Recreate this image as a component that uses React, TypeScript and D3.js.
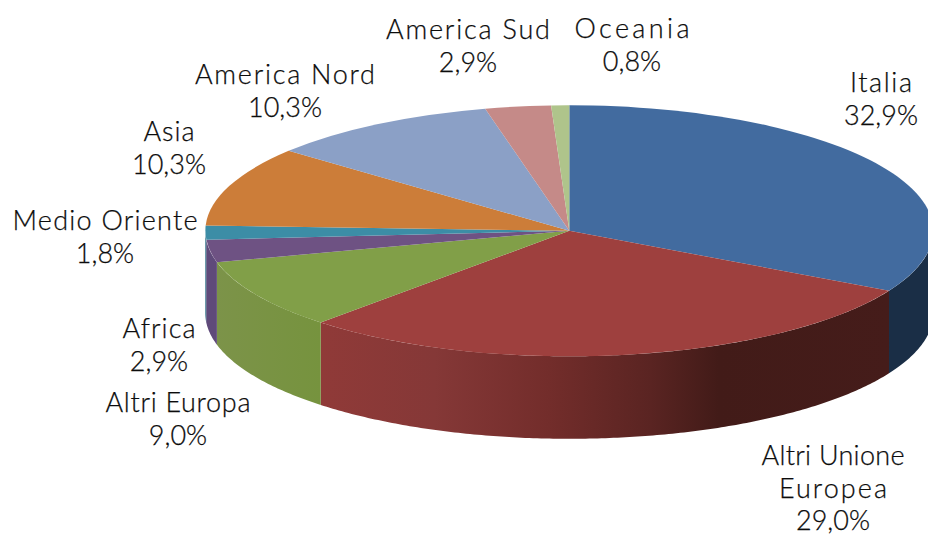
import React from "react";
import * as d3 from "d3";

const categories = ["Italia", "Altri Unione Europea", "Altri Europa", "Africa", "Medio Oriente", "Asia", "America Nord", "America Sud", "Oceania"];
const shares = [32.9, 29.0, 9.0, 2.9, 1.8, 10.3, 10.3, 2.9, 0.8];
const topColors = ["#426b9f", "#9e403e", "#819f48", "#6e5283", "#3c8da6", "#cc7d39", "#8ba0c6", "#c58a88", "#afc48b"];
const wallColors = ["#1a2e46", "url(#wallRed)", "url(#wallGreen)", "#5f4a7a", "#2f7187", "#a3642e", "#6f809e", "#9d6e6d", "#8c9d6f"];

// Label anchors: horizontal centre and the baseline of the first line.
const labelX = [881, 833, 178, 159, 105, 169, 285, 468, 632];
const labelY = [92, 465, 412, 338, 230, 141, 84, 39, 38];
const labelLines = [["Italia"], ["Altri Unione", "Europea"], ["Altri Europa"], ["Africa"], ["Medio Oriente"], ["Asia"], ["America Nord"], ["America Sud"], ["Oceania"]];
// Set width of each name line, so the geometric letterforms keep their measure.
const lineWidths = [[62], [143, 108], [145], [73], [185], [51], [180], [164], [115]];

const W = 928, H = 536;
const cx = 569.3, cy = 230.8, rx = 364, ry = 125.5, depth = 82.5;
const lineGap = 32.5;

const pie = d3.pie<number>().sort(null).value((d) => d);
const arcs = pie(shares);
const unitArc = d3.arc<d3.PieArcDatum<number>>().innerRadius(0).outerRadius(1);

const rimPoint = (a: number, dy: number): [number, number] => [cx + rx * Math.sin(a), cy - ry * Math.cos(a) + dy];
const rimLine = d3.line();

// Visible outer wall of a slice: the part of its rim that faces the viewer.
function wallPath(a0: number, a1: number): string | null {
  const from = Math.max(a0, Math.PI / 2);
  const to = Math.min(a1, (3 * Math.PI) / 2);
  if (to <= from) return null;
  const steps = Math.max(2, Math.ceil((to - from) * 90));
  const angles = d3.range(steps + 1).map((i) => from + ((to - from) * i) / steps);
  const pts = [...angles.map((a) => rimPoint(a, 0)), ...angles.slice().reverse().map((a) => rimPoint(a, depth))];
  return rimLine(pts) + "Z";
}

const percent = (v: number) => v.toFixed(1).replace(".", ",") + "%";

export default function App() {
  return (
    <svg width={W} height={H} viewBox={`0 0 ${W} ${H}`} style={{ position: "absolute", left: 0, top: 0, background: "#fff" }}>
      <defs>
        <linearGradient id="wallRed" gradientUnits="userSpaceOnUse" x1={rimPoint(arcs[1].endAngle, 0)[0]} x2={rimPoint(arcs[1].startAngle, 0)[0]} y1="0" y2="0">
          <stop offset="0" stopColor="#903a38" />
          <stop offset="0.2" stopColor="#853837" />
          <stop offset="0.4" stopColor="#732d2b" />
          <stop offset="0.58" stopColor="#5a2422" />
          <stop offset="0.7" stopColor="#421b18" />
          <stop offset="1" stopColor="#451c1a" />
        </linearGradient>
        <linearGradient id="wallGreen" gradientUnits="userSpaceOnUse" x1={rimPoint(arcs[2].endAngle, 0)[0]} x2={rimPoint(arcs[2].startAngle, 0)[0]} y1="0" y2="0">
          <stop offset="0" stopColor="#7c9349" />
          <stop offset="1" stopColor="#76933e" />
        </linearGradient>
      </defs>
      <g>
        {arcs.map((d, i) => {
          const p = wallPath(d.startAngle, d.endAngle);
          return p ? <path key={categories[i]} d={p} fill={wallColors[i]} /> : null;
        })}
      </g>
      <g transform={`translate(${cx},${cy}) scale(${rx},${ry})`}>
        {arcs.map((d, i) => (
          <path key={categories[i]} d={unitArc(d) as string} fill={topColors[i]} />
        ))}
      </g>
      <g fontFamily="Lato, sans-serif" fontSize={27} fontWeight={300} fill="#0c0c0c" stroke="#0c0c0c" strokeWidth={0.25} textAnchor="middle">
        {categories.map((c, i) => (
          <g key={c}>
            {labelLines[i].map((t, j) => (
              <text key={j} x={labelX[i]} y={labelY[i] + j * lineGap} textLength={lineWidths[i][j]} lengthAdjust="spacing">{t}</text>
            ))}
            <text x={labelX[i]} y={labelY[i] + labelLines[i].length * lineGap}>{percent(shares[i])}</text>
          </g>
        ))}
      </g>
    </svg>
  );
}
